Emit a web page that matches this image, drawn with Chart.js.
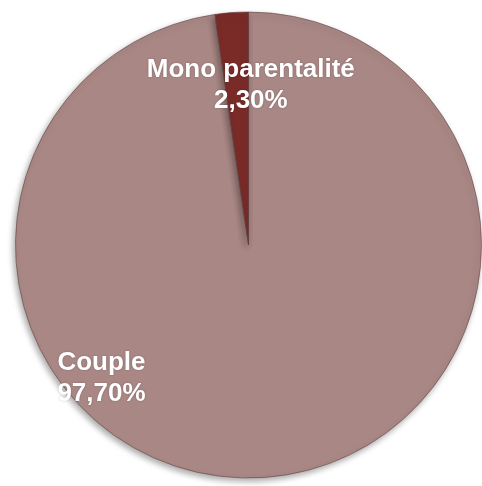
<!DOCTYPE html>
<html>
<head>
<meta charset="utf-8">
<script src="https://cdn.jsdelivr.net/npm/chart.js@4.4.0/dist/chart.umd.min.js"></script>
<style>
  html, body { margin: 0; padding: 0; background: #fff; overflow: hidden; }
  #wrap { width: 482px; height: 486px; position: relative; }
</style>
</head>
<body>
<div id="wrap"><canvas id="pie-chart"></canvas></div>
<script>
// Data
const labels = ['Couple', 'Mono parentalité'];
const values = [97.7, 2.3];
const valueLabels = ['97,70%', '2,30%'];
const sliceColors = ['#A88785', '#7A2B28'];

// soft drop shadow under the pie
const shadowPlugin = {
  id: 'pieShadow',
  beforeDatasetsDraw(chart) {
    const ctx = chart.ctx;
    ctx.save();
    ctx.shadowColor = 'rgba(0,0,0,0.35)';
    ctx.shadowBlur = 6;
    ctx.shadowOffsetX = -2;
    ctx.shadowOffsetY = 3;
  },
  afterDatasetsDraw(chart) {
    chart.ctx.restore();
  },
};

// Excel style labels: name on first line, percentage below
const sliceLabels = {
  id: 'sliceLabels',
  afterDraw(chart, args, opts) {
    const ctx = chart.ctx;
    const meta = chart.getDatasetMeta(0);
    meta.data.forEach((arc, i) => {
      const p = arc.getProps(['x', 'y', 'startAngle', 'endAngle', 'outerRadius'], true);
      const place = opts.place[i] || {};
      const ang = place.angle !== undefined
        ? (place.angle - 90) * Math.PI / 180
        : (p.startAngle + p.endAngle) / 2;
      const r = p.outerRadius * (place.r || 0.7);
      const cx = p.x + Math.cos(ang) * r + (place.dx || 0);
      const cy = p.y + Math.sin(ang) * r;
      ctx.save();
      ctx.font = 'bold 26px "Liberation Sans", Arial, sans-serif';
      ctx.fillStyle = '#FFFFFF';
      ctx.textAlign = 'center';
      ctx.textBaseline = 'alphabetic';
      ctx.shadowColor = 'rgba(0,0,0,0.25)';
      ctx.shadowBlur = 2;
      ctx.fillText(labels[i], cx, cy - 6);
      ctx.fillText(valueLabels[i], cx, cy + 25);
      ctx.restore();
    });
  },
};

new Chart(document.getElementById('pie-chart'), {
  type: 'pie',
  data: {
    labels: labels,
    datasets: [{
      data: values,
      backgroundColor: sliceColors,
      borderColor: 'rgba(95,60,58,0.55)',
      borderWidth: 1,
    }],
  },
  options: {
    responsive: true,
    maintainAspectRatio: false,
    animation: false,
    rotation: 0,
    layout: { padding: { left: 15, right: 0, top: 10, bottom: 6 } },
    plugins: {
      legend: { display: false },
      tooltip: { enabled: false },
      sliceLabels: {
        place: [
          { angle: 228.3, r: 0.845 },
          { r: 0.695, dx: 14 },
        ],
      },
    },
  },
  plugins: [shadowPlugin, sliceLabels],
});
</script>
</body>
</html>
